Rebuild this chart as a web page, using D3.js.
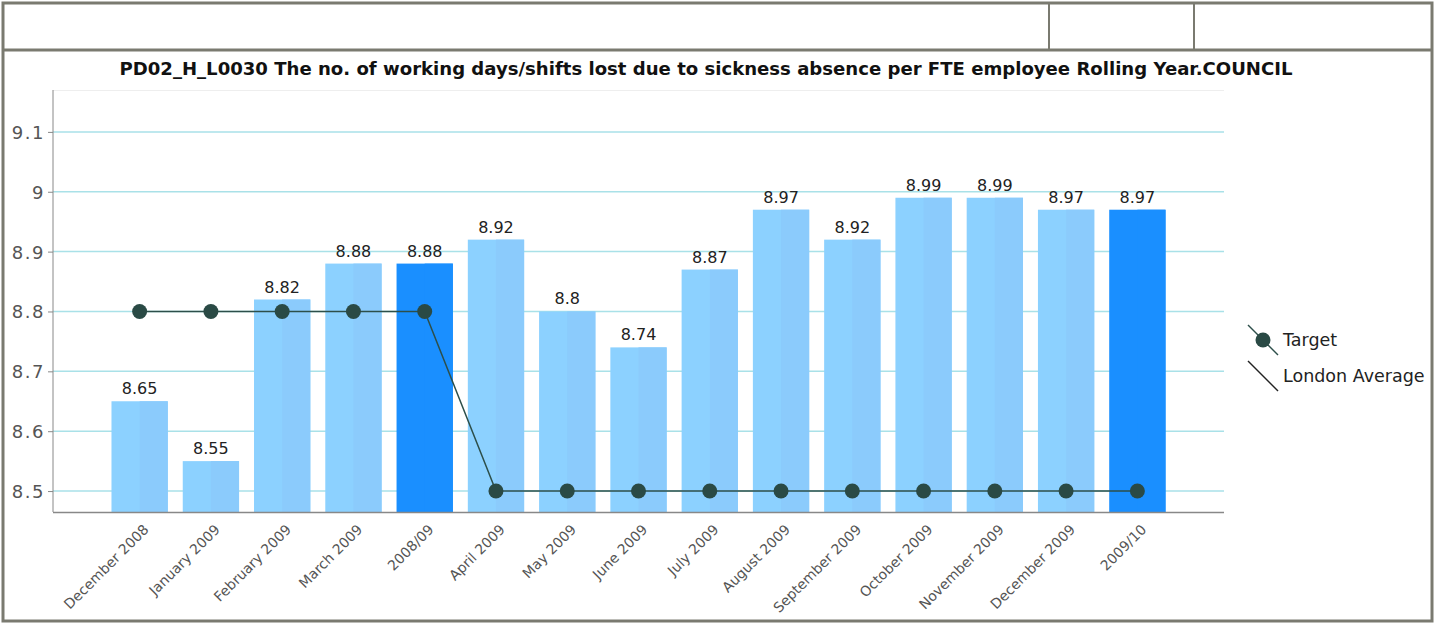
<!DOCTYPE html>
<html>
<head>
<meta charset="utf-8">
<script src="https://cdn.jsdelivr.net/npm/d3@7"></script>
<style>
  body { margin: 0; background: #fff; }
  svg { display: block; }
</style>
</head>
<body>
<svg id="chart"></svg>
<script>
// chart values
var categories = ['December 2008', 'January 2009', 'February 2009', 'March 2009', '2008/09',
    'April 2009', 'May 2009', 'June 2009', 'July 2009', 'August 2009',
    'September 2009', 'October 2009', 'November 2009', 'December 2009', '2009/10']
var actual = [8.65, 8.55, 8.82, 8.88, 8.88, 8.92, 8.8, 8.74, 8.87, 8.97, 8.92, 8.99, 8.99, 8.97, 8.97]
var target = [8.8, 8.8, 8.8, 8.8, 8.8, 8.5, 8.5, 8.5, 8.5, 8.5, 8.5, 8.5, 8.5, 8.5, 8.5]
var yTicks = [8.5, 8.6, 8.7, 8.8, 8.9, 9, 9.1]
var yearTotals = ['2008/09', '2009/10']
var legendItems = ['Target', 'London Average']
var title = 'PD02_H_L0030 The no. of working days/shifts lost due to sickness absence per FTE employee Rolling Year.COUNCIL'

var width = 1438,
    height = 624
var margin = { top: 90, right: 214, bottom: 112, left: 53 }
var plotW = width - margin.left - margin.right,
    plotH = height - margin.top - margin.bottom

var svg = d3.select('#chart').attr('width', width).attr('height', height)

// frame with the empty header row
var frameColor = '#7a7a70'
svg.append('rect').attr('x', 3).attr('y', 3).attr('width', 1429).attr('height', 618)
    .attr('fill', 'none').attr('stroke', frameColor).attr('stroke-width', 3)
svg.append('line').attr('x1', 3).attr('x2', 1432).attr('y1', 50).attr('y2', 50)
    .attr('stroke', frameColor).attr('stroke-width', 3)
svg.append('line').attr('x1', 1049).attr('x2', 1049).attr('y1', 3).attr('y2', 50)
    .attr('stroke', frameColor).attr('stroke-width', 2)
svg.append('line').attr('x1', 1194).attr('x2', 1194).attr('y1', 3).attr('y2', 50)
    .attr('stroke', frameColor).attr('stroke-width', 2)

svg.append('text')
    .attr('x', 706).attr('y', 75)
    .attr('text-anchor', 'middle')
    .attr('textLength', 1173)
    .attr('lengthAdjust', 'spacingAndGlyphs')
    .style('font-family', 'DejaVu Sans')
    .style('font-weight', 'bold')
    .style('font-size', '17px')
    .style('fill', '#111')
    .text(title)

var g = svg.append('g')
    .attr('transform', 'translate(' + margin.left + ',' + margin.top + ')')

var xScale = d3.scaleBand()
    .domain(categories)
    .range([51, 1120])
    .paddingInner(0.21)
    .paddingOuter(0.105)

var yScale = d3.scaleLinear()
    .domain([8.465, 9.17])
    .range([plotH, 0])

// top border of plot
g.append('line').attr('x1', 0).attr('x2', plotW).attr('y1', 0.5).attr('y2', 0.5)
    .attr('stroke', '#eeeeee')

// gridlines
g.selectAll('.grid')
    .data(yTicks)
    .enter()
    .append('line')
    .attr('x1', 0).attr('x2', plotW)
    .attr('y1', function(d){ return yScale(d) })
    .attr('y2', function(d){ return yScale(d) })
    .attr('stroke', '#a9e1e8')
    .attr('stroke-width', 1.5)

// bars, two tone like the original
var bars = g.selectAll('.bar')
    .data(actual)
    .enter()
    .append('g')
function isTotal(i){ return yearTotals.indexOf(categories[i]) >= 0 }
bars.append('rect')
    .attr('x', function(d, i){ return xScale(categories[i]) })
    .attr('y', function(d){ return yScale(d) })
    .attr('width', xScale.bandwidth())
    .attr('height', function(d){ return plotH - yScale(d) })
    .attr('fill', function(d, i){ return isTotal(i) ? '#1a8fff' : '#8cd1ff' })
bars.append('rect')
    .attr('x', function(d, i){ return xScale(categories[i]) + xScale.bandwidth() / 2 })
    .attr('y', function(d){ return yScale(d) })
    .attr('width', xScale.bandwidth() / 2)
    .attr('height', function(d){ return plotH - yScale(d) })
    .attr('fill', function(d, i){ return isTotal(i) ? '#1a8fff' : '#8bcbfc' })

bars.append('text')
    .attr('x', function(d, i){ return xScale(categories[i]) + xScale.bandwidth() / 2 })
    .attr('y', function(d){ return yScale(d) - 7 })
    .attr('text-anchor', 'middle')
    .style('font-family', 'DejaVu Sans')
    .style('font-size', '16px')
    .style('fill', '#222')
    .text(function(d){ return d })

// target line
var cx = function(d, i){ return xScale(categories[i]) + xScale.bandwidth() / 2 }
var line = d3.line()
    .x(cx)
    .y(function(d){ return yScale(d) })
g.append('path')
    .datum(target)
    .attr('d', line)
    .attr('fill', 'none')
    .attr('stroke', '#2d4f4a')
    .attr('stroke-width', 1.5)
g.selectAll('.dot')
    .data(target)
    .enter()
    .append('circle')
    .attr('cx', cx)
    .attr('cy', function(d){ return yScale(d) })
    .attr('r', 7.5)
    .attr('fill', '#2a4a45')

// axes
var yAxis = d3.axisLeft(yScale).tickValues(yTicks).tickSize(5).tickFormat(d3.format('~g'))
var yG = g.append('g').call(yAxis)
yG.select('.domain').attr('stroke', '#888').attr('d', 'M0,0V' + plotH)
yG.selectAll('.tick line').attr('stroke', '#888')
yG.selectAll('.tick text')
    .attr('x', -8)
    .attr('dy', '0.36em')
    .style('font-family', 'DejaVu Sans')
    .style('font-size', '18px')
    .style('letter-spacing', '1.5px')
    .style('fill', '#555')

var xAxis = d3.axisBottom(xScale).tickSize(0)
var xG = g.append('g').attr('transform', 'translate(0,' + plotH + ')').call(xAxis)
xG.select('.domain').attr('stroke', '#888').attr('stroke-width', 1.5).attr('d', 'M0,0.5H' + plotW)
xG.selectAll('.tick text')
    .attr('text-anchor', 'end')
    .attr('dx', 0).attr('dy', 0)
    .attr('x', -6).attr('y', 20)
    .attr('transform', 'rotate(-45)')
    .style('font-family', 'DejaVu Sans')
    .style('font-size', '14px')
    .style('fill', '#555')

// legend
var legend = svg.append('g').attr('transform', 'translate(1248,325)')
legendItems.forEach(function(name, i){
    var ly = i * 36
    legend.append('line')
        .attr('x1', 0).attr('y1', ly).attr('x2', 30).attr('y2', ly + 30)
        .attr('stroke', i == 0 ? '#2d4f4a' : '#222')
        .attr('stroke-width', 1.5)
    if (i == 0) {
        legend.append('circle').attr('cx', 15).attr('cy', ly + 15).attr('r', 7.5).attr('fill', '#2a4a45')
    }
    legend.append('text')
        .attr('x', 35).attr('y', ly + 21)
        .style('font-family', 'DejaVu Sans')
        .style('font-size', '17.5px')
        .style('fill', '#222')
        .text(name)
})
</script>
</body>
</html>
